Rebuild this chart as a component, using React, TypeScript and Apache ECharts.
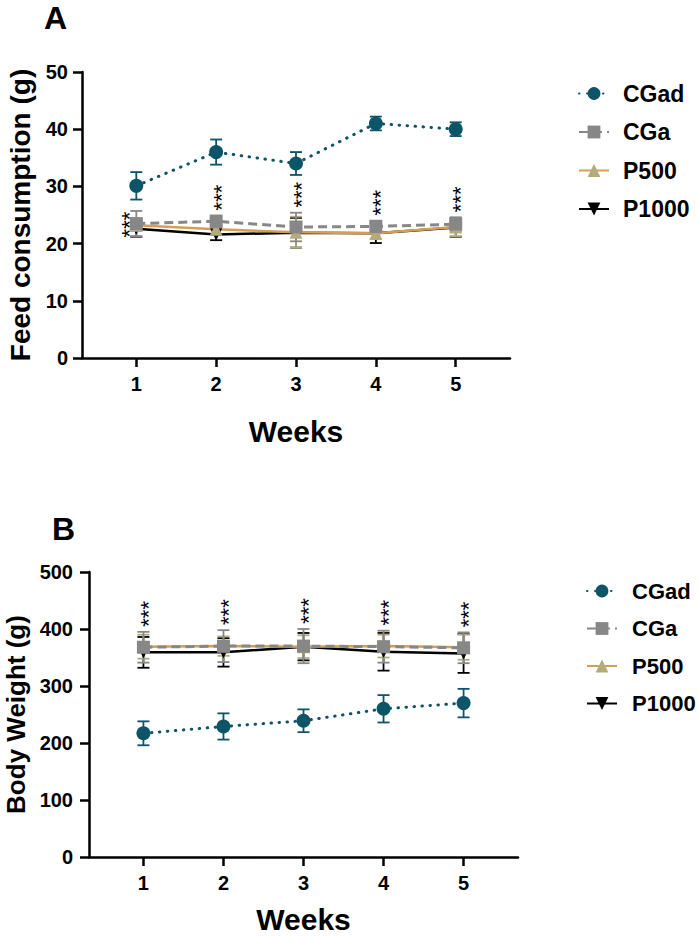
import React, { useEffect, useRef } from "react";
import * as echarts from "echarts";

const weeks = [1, 2, 3, 4, 5];
const groups = ["CGad", "CGa", "P500", "P1000"];

// Feed consumption (g): weekly mean and SEM
const feedCGad = [30.1, 36.0, 34.0, 41.0, 40.0];
const feedCGadErr = [2.4, 2.2, 2.0, 1.2, 1.2];
const feedCGa = [23.5, 23.9, 22.9, 23.0, 23.4];
const feedCGaErr = [2.2, 1.0, 2.5, 1.0, 1.2];
const feedP500 = [23.2, 22.5, 22.0, 21.8, 22.9];
const feedP500Err = [1.0, 0.8, 2.7, 1.0, 1.6];
const feedP1000 = [22.6, 21.6, 21.9, 21.8, 22.8];
const feedP1000Err = [1.4, 1.0, 2.6, 1.7, 1.6];

// Body weight (g): weekly mean and SEM
const bwCGad = [217, 229, 239, 260, 270];
const bwCGadErr = [21, 23, 20, 24, 25];
const bwCGa = [368, 370, 370, 369, 367];
const bwCGaErr = [27, 28, 30, 28, 27];
const bwP500 = [369, 370, 369, 370, 368];
const bwP500Err = [21, 17, 20, 20, 22];
const bwP1000 = [359, 359, 369, 360, 357];
const bwP1000Err = [27, 25, 24, 33, 34];

// significance marks per week (vs CGad)
const feedSig = ["***", "***", "***", "***", "***"];
const bwSig = ["***", "***", "***", "***", "***"];

const FONT = "'Liberation Sans', Arial, Helvetica, sans-serif";

const TEAL = "#0c5467";
const GRAY = "#878787";
const ORANGE = "#d69e50";
const KHAKI = "#b4ab7d";
const BLACK = "#000000";

type Style = {
  line: any;
  itemColor: string;
  barColor: string;
  symbol: string;
  symbolSize: number;
  symbolRotate?: number;
};

const styles: Record<string, Style> = {
  CGad: {
    line: { color: TEAL, width: 3, type: [0.5, 7.5], cap: "round" },
    itemColor: TEAL,
    barColor: TEAL,
    symbol: "circle",
    symbolSize: 14,
  },
  CGa: {
    line: { color: GRAY, width: 3, type: [9, 5] },
    itemColor: GRAY,
    barColor: GRAY,
    symbol: "rect",
    symbolSize: 13,
  },
  P500: {
    line: { color: ORANGE, width: 2.5 },
    itemColor: KHAKI,
    barColor: KHAKI,
    symbol: "triangle",
    symbolSize: 13,
  },
  P1000: {
    line: { color: BLACK, width: 2.5 },
    itemColor: BLACK,
    barColor: BLACK,
    symbol: "triangle",
    symbolSize: 12,
    symbolRotate: 180,
  },
};

type Panel = {
  means: Record<string, number[]>;
  errs: Record<string, number[]>;
  sig: string[];
  starsLeftOfFirst: boolean;
};

const feedPanel: Panel = {
  means: { CGad: feedCGad, CGa: feedCGa, P500: feedP500, P1000: feedP1000 },
  errs: { CGad: feedCGadErr, CGa: feedCGaErr, P500: feedP500Err, P1000: feedP1000Err },
  sig: feedSig,
  starsLeftOfFirst: true,
};

const bwPanel: Panel = {
  means: { CGad: bwCGad, CGa: bwCGa, P500: bwP500, P1000: bwP1000 },
  errs: { CGad: bwCGadErr, CGa: bwCGaErr, P500: bwP500Err, P1000: bwP1000Err },
  sig: bwSig,
  starsLeftOfFirst: false,
};

// draw order: lowest first so CGa squares and CGad circles sit on top
const drawOrder = ["P1000", "P500", "CGa", "CGad"];

// stars are set as one rotated run of "*" so they stack in a column
const STAR_FONT = 22;
const STAR_GLYPH_SHIFT = 5; // asterisk sits above the text's centre line

function panelSeries(panel: Panel, axis: number) {
  const out: any[] = [];
  drawOrder.forEach((g) => {
    const st = styles[g];
    const m = panel.means[g];
    const e = panel.errs[g];
    out.push({
      type: "custom",
      name: g + " SEM",
      xAxisIndex: axis,
      yAxisIndex: axis,
      z: 1,
      silent: true,
      data: weeks.map((w, i) => [w, m[i] - e[i], m[i] + e[i]]),
      encode: { x: 0, y: [1, 2] },
      renderItem: (_params: any, api: any) => {
        const x = api.value(0);
        const lo = api.coord([x, api.value(1)]);
        const hi = api.coord([x, api.value(2)]);
        const half = 6;
        const style = { stroke: st.barColor, lineWidth: 1.8, fill: "none" };
        return {
          type: "group",
          children: [
            { type: "line", shape: { x1: lo[0], y1: lo[1], x2: hi[0], y2: hi[1] }, style },
            { type: "line", shape: { x1: hi[0] - half, y1: hi[1], x2: hi[0] + half, y2: hi[1] }, style },
            { type: "line", shape: { x1: lo[0] - half, y1: lo[1], x2: lo[0] + half, y2: lo[1] }, style },
          ],
        };
      },
    });
  });
  drawOrder.forEach((g) => {
    const st = styles[g];
    const m = panel.means[g];
    out.push({
      type: "line",
      name: g,
      xAxisIndex: axis,
      yAxisIndex: axis,
      z: 3,
      data: weeks.map((w, i) => [w, m[i]]),
      symbol: st.symbol,
      symbolSize: st.symbolSize,
      symbolRotate: st.symbolRotate || 0,
      showAllSymbol: true,
      lineStyle: st.line,
      itemStyle: { color: st.itemColor, opacity: 1 },
      emphasis: { disabled: true },
    });
  });
  // significance stars, above the treated groups' highest error bar
  const treated = ["CGa", "P500", "P1000"];
  out.push({
    type: "custom",
    name: "sig",
    xAxisIndex: axis,
    yAxisIndex: axis,
    z: 5,
    silent: true,
    data: weeks.map((w, i) => [
      w,
      Math.max(...treated.map((g) => panel.means[g][i] + panel.errs[g][i])),
      panel.means.CGa[i],
    ]),
    encode: { x: 0, y: 1 },
    renderItem: (params: any, api: any) => {
      const idx = params.dataIndex;
      const text = panel.sig[idx];
      const x = api.value(0);
      const left = panel.starsLeftOfFirst && idx === 0;
      let cx: number;
      let cy: number;
      if (left) {
        const p = api.coord([x, api.value(2)]);
        cx = p[0] - 12;
        cy = p[1] + 1;
      } else {
        const p = api.coord([x, api.value(1)]);
        cx = p[0];
        cy = p[1] - 18;
      }
      return {
        type: "text",
        x: cx + STAR_GLYPH_SHIFT,
        y: cy,
        rotation: Math.PI / 2,
        style: {
          text,
          x: 0,
          y: 0,
          align: "center",
          verticalAlign: "middle",
          fontSize: STAR_FONT,
          fontFamily: FONT,
          fill: "#000",
        },
      };
    },
  });
  return out;
}

function xAxisFor(grid: number, nameGap: number) {
  return {
    type: "value",
    gridIndex: grid,
    min: 0.32,
    max: 5.68,
    splitLine: { show: false },
    axisLine: { show: true, lineStyle: { color: "#000", width: 2.5 } },
    axisTick: { show: true, customValues: weeks, length: 9, lineStyle: { color: "#000", width: 2.5 } },
    axisLabel: {
      customValues: weeks,
      margin: 16,
      fontSize: 20,
      fontWeight: "bold",
      color: "#000",
      fontFamily: FONT,
    },
    name: "Weeks",
    nameLocation: "middle",
    nameGap,
    nameTextStyle: { fontSize: 30, fontWeight: "bold", color: "#000", fontFamily: FONT },
  };
}

function yAxisFor(grid: number, max: number, interval: number, name: string, nameGap: number, nameSize: number, margin: number) {
  return {
    type: "value",
    gridIndex: grid,
    min: 0,
    max,
    interval,
    splitLine: { show: false },
    axisLine: { show: true, lineStyle: { color: "#000", width: 2.5 } },
    axisTick: { show: true, length: 9, lineStyle: { color: "#000", width: 2.5 } },
    axisLabel: { margin, fontSize: 20, fontWeight: "bold", color: "#000", fontFamily: FONT },
    name,
    nameLocation: "middle",
    nameRotate: 90,
    nameGap,
    nameTextStyle: { fontSize: nameSize, fontWeight: "bold", color: "#000", fontFamily: FONT },
  };
}

function legendAt(left: number, top: number, fontSize: number, pad: number) {
  return {
    data: groups,
    orient: "vertical",
    left,
    top,
    itemWidth: 30,
    itemHeight: 16,
    itemGap: 15.5,
    selectedMode: false,
    textStyle: {
      fontSize,
      fontWeight: "bold",
      color: "#000",
      fontFamily: FONT,
      padding: [0, 0, 0, pad],
    },
  };
}

export default function App() {
  const ref = useRef<HTMLDivElement>(null);

  useEffect(() => {
    if (!ref.current) return;
    const chart = echarts.init(ref.current, undefined, { renderer: "svg" });
    chart.setOption({
      animation: false,
      backgroundColor: "#fff",
      grid: [
        { left: 82, top: 72, width: 428, height: 286, outerBoundsMode: "none", containLabel: false },
        { left: 89, top: 572, width: 429, height: 285, outerBoundsMode: "none", containLabel: false },
      ],
      xAxis: [xAxisFor(0, 58), xAxisFor(1, 47)],
      yAxis: [
        yAxisFor(0, 50, 10, "Feed consumption (g)", 48, 28, 14),
        yAxisFor(1, 500, 100, "Body Weight (g)", 56, 26, 16),
      ],
      legend: [legendAt(573, 77, 23, 9), legendAt(581, 575, 22, 10)],
      graphic: [
        {
          type: "text",
          left: 44,
          top: 2,
          style: { text: "A", fontSize: 32, fontWeight: "bold", fontFamily: FONT, fill: "#000" },
        },
        {
          type: "text",
          left: 52,
          top: 513,
          style: { text: "B", fontSize: 32, fontWeight: "bold", fontFamily: FONT, fill: "#000" },
        },
      ],
      series: [...panelSeries(feedPanel, 0), ...panelSeries(bwPanel, 1)],
    });
    return () => chart.dispose();
  }, []);

  return (
    <div
      ref={ref}
      style={{ position: "absolute", left: 0, top: 0, width: 698, height: 936, background: "#fff" }}
    />
  );
}
